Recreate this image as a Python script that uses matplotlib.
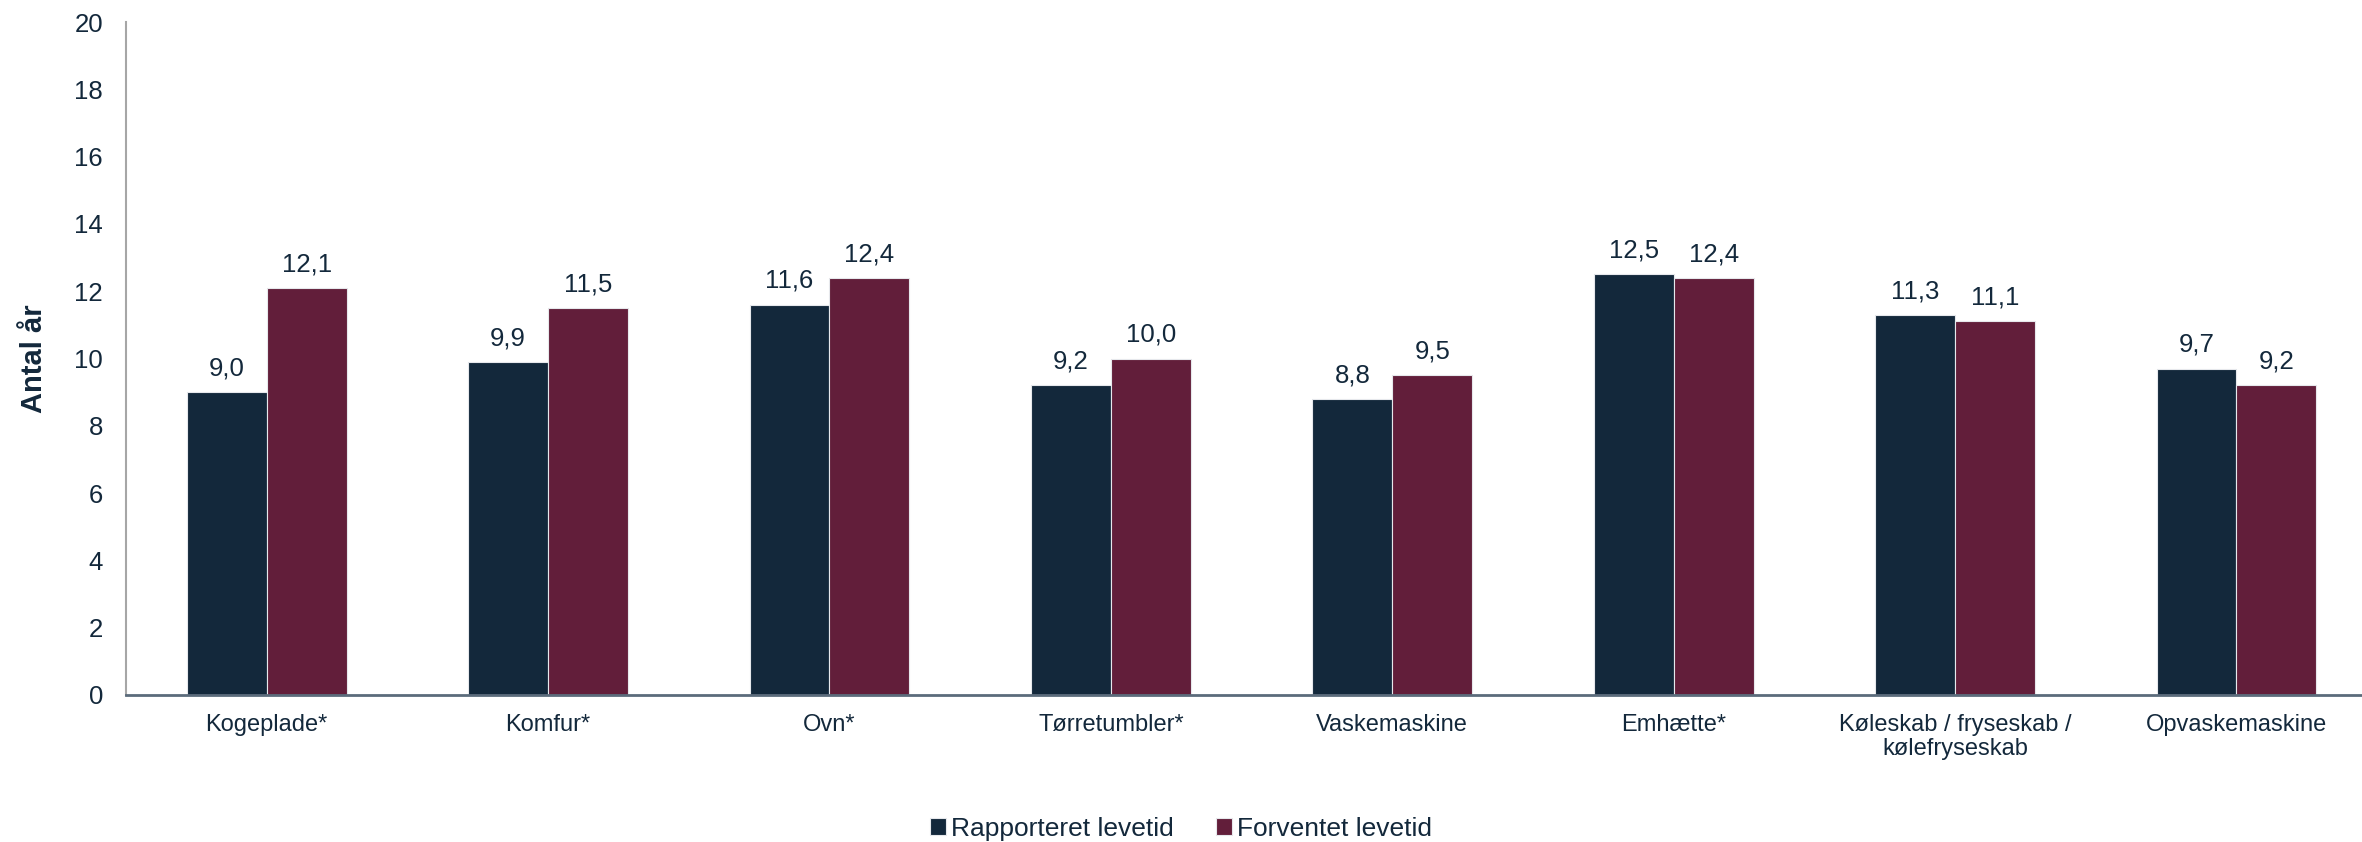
import numpy as np
import matplotlib
matplotlib.use("Agg")
import matplotlib.pyplot as plt

plt.rcParams["font.family"] = ["Liberation Sans", "DejaVu Sans"]

# Data
categories = ["Kogeplade*", "Komfur*", "Ovn*", "Tørretumbler*", "Vaskemaskine",
              "Emhætte*", "Køleskab / fryseskab /\nkølefryseskab", "Opvaskemaskine"]
reported = [9.0, 9.9, 11.6, 9.2, 8.8, 12.5, 11.3, 9.7]
expected = [12.1, 11.5, 12.4, 10.0, 9.5, 12.4, 11.1, 9.2]
series_names = ["Rapporteret levetid", "Forventet levetid"]
y_ticks = np.arange(0, 21, 2)

navy = "#13283b"
maroon = "#621e3a"
text_col = "#13283b"

fig = plt.figure(figsize=(23.62, 8.42), dpi=100)
ax = fig.add_axes([126 / 2362, 1 - 695 / 842, 1 - 126 / 2362, (695 - 22) / 842])

x = np.arange(len(categories))
w = 0.284
b1 = ax.bar(x - w / 2, reported, w, color=navy, edgecolor="#e6e8ec", linewidth=0.8,
            label=series_names[0])
b2 = ax.bar(x + w / 2, expected, w, color=maroon, edgecolor="#e6e8ec", linewidth=0.8,
            label=series_names[1])

# value labels with danish decimal comma
for bars, vals in ((b1, reported), (b2, expected)):
    for rect, v in zip(bars, vals):
        ax.annotate(f"{v:.1f}".replace(".", ","),
                    (rect.get_x() + rect.get_width() / 2, v),
                    xytext=(0, 12), textcoords="offset points",
                    ha="center", va="baseline", fontsize=18.5, color=text_col)

ax.set_xlim(-0.5, 7.446)
ax.set_ylim(0, 20)
ax.set_yticks(y_ticks)
ax.set_yticklabels([str(t) for t in y_ticks])
ax.set_xticks(x)
ax.set_xticklabels(categories, linespacing=1.1)

ax.tick_params(axis="y", length=0, pad=16.5, labelsize=18.5, labelcolor=text_col)
ax.tick_params(axis="x", length=0, pad=14, labelsize=17, labelcolor=text_col)

for s in ("top", "right"):
    ax.spines[s].set_visible(False)
ax.spines["left"].set_color("#a6a6a6")
ax.spines["left"].set_linewidth(1.5)
ax.spines["bottom"].set_color("#5b6b7b")
ax.spines["bottom"].set_linewidth(2)

ax.set_ylabel("Antal år", fontsize=21, fontweight="bold", color=text_col)
ax.yaxis.set_label_coords(-0.035, 0.5)

fig.legend(handles=[b1, b2], labels=series_names, loc="center",
           bbox_to_anchor=(0.5, 1 - 829 / 842), ncol=2, frameon=False,
           fontsize=19, labelcolor=text_col, handlelength=0.6,
           handleheight=0.6, handletextpad=0.2, columnspacing=1.6)

fig.savefig("out.png", dpi=100)
